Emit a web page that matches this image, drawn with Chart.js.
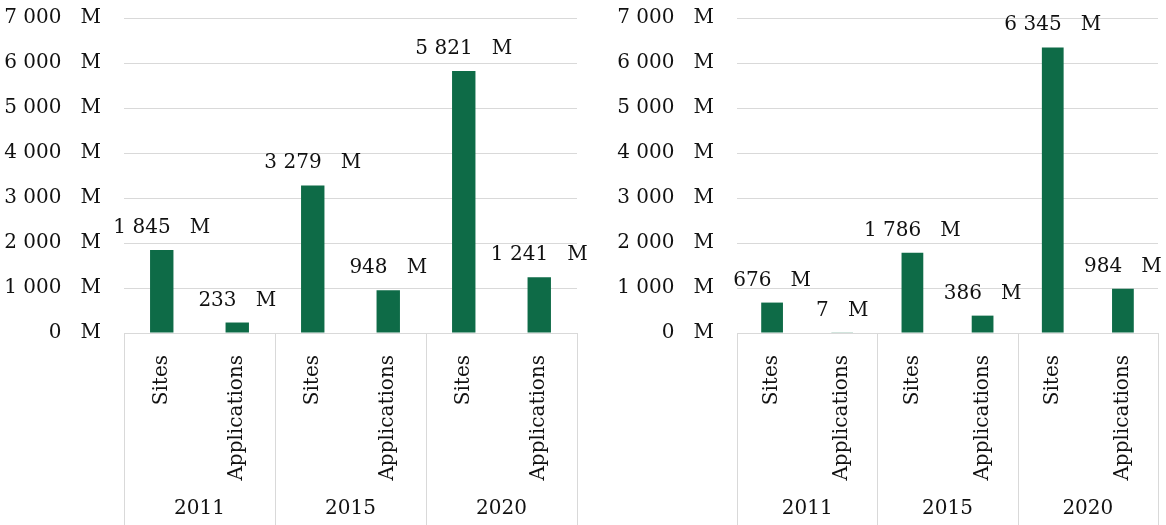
<!DOCTYPE html>
<html>
<head>
<meta charset="utf-8">
<script src="https://cdn.jsdelivr.net/npm/chart.js@4.4.1/dist/chart.umd.min.js"></script>
<style>
  body { margin: 0; background: #fff; }
  canvas { position: absolute; top: 0; }
  #chartLeft { left: 0; }
  #chartRight { left: 600px; }
</style>
</head>
<body>
<canvas id="chartLeft" width="600" height="525"></canvas>
<canvas id="chartRight" width="566" height="525"></canvas>
<script>
// data
let kinds = ['Sites', 'Applications', 'Sites', 'Applications', 'Sites', 'Applications'];
let years = ['2011', '2015', '2020'];
let leftValues = [1845, 233, 3279, 948, 5821, 1241];
let rightValues = [676, 7, 1786, 386, 6345, 984];
let yTicks = [0, 1000, 2000, 3000, 4000, 5000, 6000, 7000];

const FONT = 'DejaVu Serif';
const GREEN = '#0E6B47';
const GRID = '#d9d9d9';

function fmt(v){
    let s = String(Math.round(v)).replace(/\B(?=(\d{3})+(?!\d))/g, ' ');
    return s + '   M';
}

// вертикальные разделители групп под осью
const dividers = {
    id: 'dividers',
    afterDraw(chart){
        let ys = chart.scales.year;
        let ctx = chart.ctx;
        ctx.save();
        ctx.strokeStyle = GRID;
        ctx.lineWidth = 1;
        for (let i = 0; i <= years.length; i++){
            let x = Math.round(ys.getPixelForValue(i - 0.5)) + 0.5;
            ctx.beginPath();
            ctx.moveTo(x, chart.chartArea.bottom);
            ctx.lineTo(x, chart.height);
            ctx.stroke();
        }
        ctx.restore();
    }
};

// подписи над столбцами
const barLabels = {
    id: 'barLabels',
    afterDatasetsDraw(chart){
        let ctx = chart.ctx;
        let meta = chart.getDatasetMeta(0);
        let vals = chart.data.datasets[0].data;
        ctx.save();
        ctx.font = '20px "' + FONT + '"';
        ctx.fillStyle = '#111';
        ctx.textAlign = 'center';
        ctx.textBaseline = 'alphabetic';
        meta.data.forEach((bar, i) => {
            ctx.fillText(fmt(vals[i]), bar.x, bar.y - 17);
        });
        ctx.restore();
    }
};

function makeChart(id, values, yWidth, padRight){
    let ctx = document.getElementById(id).getContext('2d');
    return new Chart(ctx, {
        type: 'bar',
        data: {
            labels: kinds,
            datasets: [{
                data: values,
                backgroundColor: GREEN,
                borderWidth: 0,
                barPercentage: 0.31,
                categoryPercentage: 1
            }]
        },
        options: {
            responsive: false,
            animation: false,
            layout: { padding: { top: 18, right: padRight, left: 0, bottom: 0 } },
            plugins: { legend: { display: false }, tooltip: { enabled: false } },
            scales: {
                y: {
                    min: 0,
                    max: 7000,
                    afterBuildTicks(scale){ scale.ticks = yTicks.map(v => ({ value: v })); },
                    afterFit(scale){
                        scale.width = yWidth;
                        scale.paddingTop = 0;
                        scale.paddingBottom = 0;
                    },
                    grid: { color: GRID, drawTicks: false },
                    border: { display: false },
                    ticks: {
                        padding: 23,
                        color: '#111',
                        font: { family: FONT, size: 20 },
                        callback: v => fmt(v)
                    }
                },
                x: {
                    weight: 0,
                    offset: true,
                    grid: { display: false },
                    border: { display: false },
                    afterFit(scale){ scale.height = 150; },
                    ticks: {
                        minRotation: 90,
                        maxRotation: 90,
                        autoSkip: false,
                        padding: 14,
                        color: '#111',
                        font: { family: FONT, size: 20 }
                    }
                },
                year: {
                    type: 'category',
                    position: 'bottom',
                    labels: years,
                    weight: 1,
                    offset: true,
                    grid: { display: false },
                    border: { display: false },
                    afterFit(scale){ scale.height = 42; },
                    ticks: {
                        padding: 6,
                        color: '#111',
                        font: { family: FONT, size: 20 }
                    }
                }
            }
        },
        plugins: [dividers, barLabels]
    });
}

makeChart('chartLeft', leftValues, 124, 23);
makeChart('chartRight', rightValues, 137, 8);
</script>
</body>
</html>
